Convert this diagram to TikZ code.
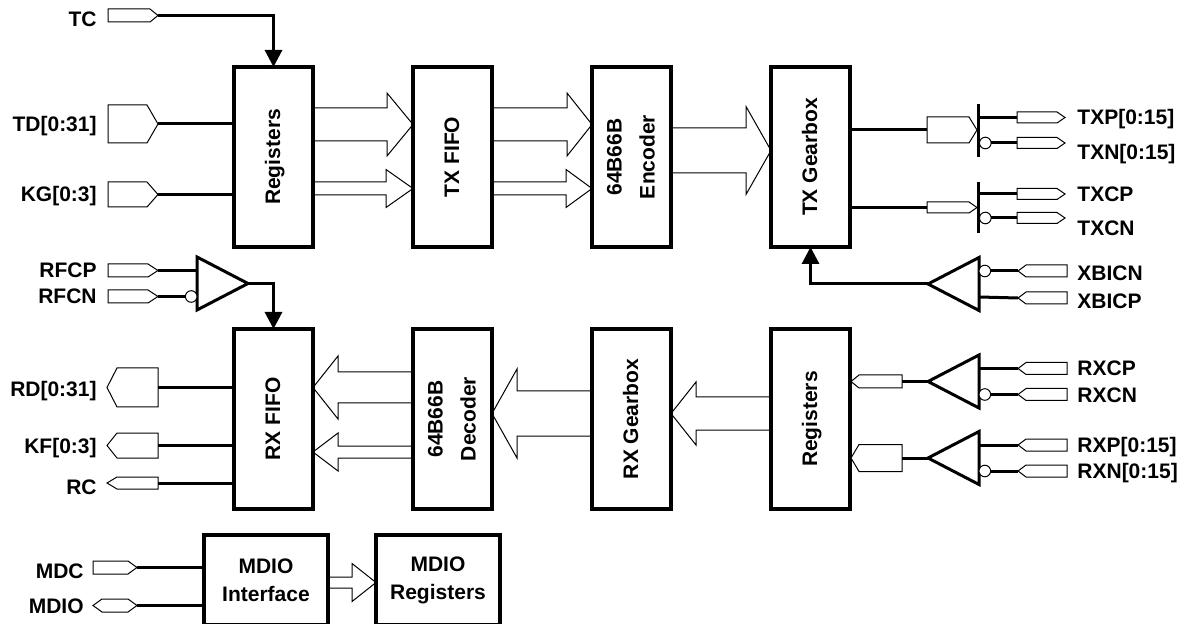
\documentclass[tikz,border=0pt]{standalone}
\usepackage{fontspec}
\setmainfont{Liberation Sans}
\usetikzlibrary{arrows.meta}
\usetikzlibrary{positioning}
\usetikzlibrary{calc}

\newcommand\vlabel[1]{\rotatebox{90}{\begin{tabular}{@{}c@{}}#1\end{tabular}}}
% hollow bus arrow: from, to, shaft half, head half, head length
\newcommand\busarrow[5]{%
  \coordinate (hb) at ($(#2)!#5!(#1)$);
  \draw[thinline] ($(#1)+(0,-#3)$) -- ($(hb)+(0,-#3)$) -- ($(hb)+(0,-#4)$) -- (#2)
    -- ($(hb)+(0,#4)$) -- ($(hb)+(0,#3)$) -- ($(#1)+(0,#3)$);}

\tikzset{
  block/.style={draw, line width=2pt, inner sep=0pt, outer sep=0pt,
    minimum width=39.5pt, minimum height=90pt,
    font=\bfseries\fontsize{10.5}{16.5}\selectfont},
  mblock/.style={block, minimum width=62pt, minimum height=45pt, align=center,
    font=\bfseries\fontsize{10.5}{14}\selectfont},
  wire/.style={line width=1.5pt},
  thinline/.style={line width=0.5pt},
  lbl/.style={font=\bfseries\fontsize{10.5}{12}\selectfont, inner sep=0pt,
    text height=7.5pt, text depth=0pt},
  bubble/.style={circle, draw, thinline, fill=white, inner sep=0pt, outer sep=0pt,
    minimum size=5.8pt},
  drvbar/.style={fill, inner sep=0pt, outer sep=0pt, minimum width=1.5pt,
    minimum height=#1},
  tip/.style={-{Triangle[length=8.5pt, width=8.5pt]}},
  % pin: length, height, tip length; -a flat end, -b pointed end
  pics/pin/.style n args={3}{code={
    \draw[thinline, fill=white] (0,-#2/2) -- (#1-#3,-#2/2) -- (#1,0)
      -- (#1-#3,#2/2) -- (0,#2/2) -- cycle;
    \coordinate (-a) at (0,0);
    \coordinate (-b) at (#1,0);
  }},
  pics/bipin/.style n args={3}{code={
    \draw[thinline, fill=white] (0,0) -- (#3,-#2/2) -- (#1-#3,-#2/2) -- (#1,0)
      -- (#1-#3,#2/2) -- (#3,#2/2) -- cycle;
    \coordinate (-a) at (0,0);
    \coordinate (-b) at (#1,0);
  }},
  pics/buffer/.style={code={
    \draw[wire] (0,0) -- (51,-26.5) -- (51,26.5) -- cycle;
    \coordinate (-tip) at (0,0);
    \coordinate (-a) at (51,-13);
    \coordinate (-b) at (51,13);
  }},
}

\begin{document}
\begin{tikzpicture}[x=0.5pt, y=-0.5pt]
    \clip (0,0) rectangle (1181,624);

    % blocks
    \node[block] (regT) at (273.5,157) {\vlabel{Registers}};
    \node[block, right=50pt of regT] (txfifo) {\vlabel{TX FIFO}};
    \node[block, right=50pt of txfifo] (enc) {\vlabel{64B66B\\Encoder}};
    \node[block, right=50pt of enc] (txgb) {\vlabel{TX Gearbox}};
    \node[block, below=41pt of regT] (rxfifo) {\vlabel{RX FIFO}};
    \node[block, right=50pt of rxfifo] (dec) {\vlabel{64B66B\\Decoder}};
    \node[block, right=50pt of dec] (rxgb) {\vlabel{RX Gearbox}};
    \node[block, right=50pt of rxgb] (regR) {\vlabel{Registers}};
    \node[mblock] (mdioif) at (266,580) {MDIO\\Interface};
    \node[mblock, right=24pt of mdioif] (mdioreg) {MDIO\\Registers};

    % left pins
    \pic (tc) at (108,15.5) {pin={50}{13}{8}};
    \pic (td) at (108,124) {pin={50}{38}{11}};
    \pic (kg) at (108,194.5) {pin={50}{25}{11}};
    \pic (rfcp) at (108,270.5) {pin={50}{13}{10}};
    \pic (rfcn) at (108,296.5) {pin={50}{13}{10}};
    \pic[xscale=-1] (rd) at (158,387.5) {pin={51}{39}{10}};
    \pic[xscale=-1] (kf) at (158,445.5) {pin={51}{25}{10}};
    \pic[xscale=-1] (rc) at (158,483) {pin={51}{12}{10}};
    \pic (mdc) at (93,567.5) {pin={44}{13}{9}};
    \pic (mdio) at (93,605.5) {bipin={44}{13}{9}};

    \node[lbl, left=5.5pt of tc-a, yshift=-2pt] (tcl) {TC};
    \node[lbl, left=5.5pt of td-a] (tdl) {TD[0:31]};
    \node[lbl, left=5.5pt of kg-a] (kgl) {KG[0:3]};
    \node[lbl, left=5.5pt of rfcp-a] (rfcpl) {RFCP};
    \node[lbl, left=5.5pt of rfcn-a] (rfcnl) {RFCN};
    \node[lbl, left=5pt of rd-b, yshift=-1pt] (rdl) {RD[0:31]};
    \node[lbl, left=5pt of kf-b] (kfl) {KF[0:3]};
    \node[lbl, left=5pt of rc-b, yshift=-2pt] (rcl) {RC};
    \node[lbl, left=4.5pt of mdc-a, yshift=-1.5pt] (mdcl) {MDC};
    \node[lbl, left=4.5pt of mdio-a] (mdiol) {MDIO};

    % tx outputs
    \pic (txbus) at (927,130) {pin={50}{26}{8}};
    \pic (txclk) at (927,207.5) {pin={50}{11}{8}};
    \node[drvbar=26.5pt] (drv1) at (978,130.5) {};
    \node[drvbar=25.5pt] (drv2) at (978,207.5) {};
    \pic (txp) at (1017,117.5) {pin={48}{11}{8}};
    \pic (txn) at (1017,143) {pin={48}{11}{8}};
    \pic (txcp) at (1017,194) {pin={48}{11}{8}};
    \pic (txcn) at (1017,218) {pin={48}{11}{8}};
    \node[bubble, anchor=west] (txnb) at (drv1.east |- txn-a) {};
    \node[bubble, anchor=west] (txcnb) at (drv2.east |- txcn-a) {};

    % receivers
    \pic (xbbuf) at (928,284) {buffer};
    \pic (rxcbuf) at (928,381.5) {buffer};
    \pic (rxpbuf) at (928,458) {buffer};
    \pic[xscale=-1] (rfbuf) at (248,283.5) {buffer};
    \node[bubble, anchor=west] (xbnb) at (xbbuf-a) {};
    \node[bubble, anchor=west] (rxcnb) at (rxcbuf-b) {};
    \node[bubble, anchor=west] (rxnb) at (rxpbuf-b) {};
    \node[bubble, anchor=east] (rfnb) at (rfbuf-b) {};

    \pic[xscale=-1] (xbicn) at (1067,271) {pin={49}{12}{8}};
    \pic[xscale=-1] (xbicp) at (1067,298) {pin={49}{12}{8}};
    \pic[xscale=-1] (rxcp) at (1067,368.5) {pin={49}{12}{8}};
    \pic[xscale=-1] (rxcn) at (1067,394.5) {pin={49}{12}{8}};
    \pic[xscale=-1] (rxp) at (1067,445) {pin={49}{12}{8}};
    \pic[xscale=-1] (rxn) at (1067,471) {pin={49}{12}{8}};
    \pic[xscale=-1] (rxclk) at (902,381.5) {pin={51}{13}{8}};
    \pic[xscale=-1] (rxbus) at (902,458) {pin={51}{27}{8}};

    \node[lbl, right=6pt of txp-b] (txpl) {TXP[0:15]};
    \node[lbl, right=6pt of txn-b, yshift=-4.5pt] (txnl) {TXN[0:15]};
    \node[lbl, right=6pt of txcp-b] (txcpl) {TXCP};
    \node[lbl, right=6pt of txcn-b, yshift=-5pt] (txcnl) {TXCN};
    \node[lbl, right=5pt of xbicn-a, yshift=-1pt] (xbicnl) {XBICN};
    \node[lbl, right=5pt of xbicp-a, yshift=-1.5pt] (xbicpl) {XBICP};
    \node[lbl, right=5pt of rxcp-a] (rxcpl) {RXCP};
    \node[lbl, right=5pt of rxcn-a] (rxcnl) {RXCN};
    \node[lbl, right=5pt of rxp-a] (rxpl) {RXP[0:15]};
    \node[lbl, right=5pt of rxn-a] (rxnl) {RXN[0:15]};

    % wires
    \draw[wire, tip] (tc-b) -| (regT.north);
    \draw[wire] (td-b) -- (td-b -| regT.west);
    \draw[wire] (kg-b) -- (kg-b -| regT.west);
    \draw[wire] (rfcp-b) -- (rfbuf-a);
    \draw[wire] (rfcn-b) -- (rfnb.west);
    \draw[wire, tip] (rfbuf-tip) -| (rxfifo.north);
    \draw[wire] (rd-a) -- (rd-a -| rxfifo.west);
    \draw[wire] (kf-a) -- (kf-a -| rxfifo.west);
    \draw[wire] (rc-a) -- (rc-a -| rxfifo.west);
    \draw[wire] (mdc-b) -- (mdc-b -| mdioif.west);
    \draw[wire] (mdio-b) -- (mdio-b -| mdioif.west);
    \draw[wire] (txbus-a -| txgb.east) -- (txbus-a);
    \draw[wire] (txclk-a -| txgb.east) -- (txclk-a);
    \draw[wire] (txp-a -| drv1.east) -- (txp-a);
    \draw[wire] (txnb.east) -- (txn-a);
    \draw[wire] (txcp-a -| drv2.east) -- (txcp-a);
    \draw[wire] (txcnb.east) -- (txcn-a);
    \draw[wire] (xbnb.east) -- (xbicn-b);
    \draw[wire] (xbbuf-b) -- (xbicp-b);
    \draw[wire, tip] (xbbuf-tip) -| (txgb.south);
    \draw[wire] (rxcbuf-a) -- (rxcp-b);
    \draw[wire] (rxcnb.east) -- (rxcn-b);
    \draw[wire] (rxcbuf-tip) -- (rxclk-a);
    \draw[wire] (rxpbuf-a) -- (rxp-b);
    \draw[wire] (rxnb.east) -- (rxn-b);
    \draw[wire] (rxpbuf-tip) -- (rxbus-a);

    % buses
    \busarrow{regT.east |- 0,124.5}{txfifo.west |- 0,124.5}{16.5}{31.5}{13pt}
    \busarrow{regT.east |- 0,188.5}{txfifo.west |- 0,188.5}{6.5}{19}{13.5pt}
    \busarrow{txfifo.east |- 0,124.5}{enc.west |- 0,124.5}{16.5}{31.5}{12.5pt}
    \busarrow{txfifo.east |- 0,188.5}{enc.west |- 0,188.5}{6.5}{19}{13pt}
    \busarrow{enc.east |- 0,150.5}{txgb.west |- 0,150.5}{22.5}{44}{12.5pt}
    \busarrow{regR.west |- 0,413.5}{rxgb.east |- 0,413.5}{16.5}{31.5}{12.5pt}
    \busarrow{rxgb.west |- 0,413.5}{dec.east |- 0,413.5}{22.5}{44.5}{12.5pt}
    \busarrow{dec.west |- 0,387.5}{rxfifo.east |- 0,387.5}{15.5}{31.5}{12.5pt}
    \busarrow{dec.west |- 0,452}{rxfifo.east |- 0,452}{6}{19}{12.5pt}
    \busarrow{mdioif.east |- 0,582.5}{mdioreg.west |- 0,582.5}{5.5}{19}{12pt}
\end{tikzpicture}
\end{document}
